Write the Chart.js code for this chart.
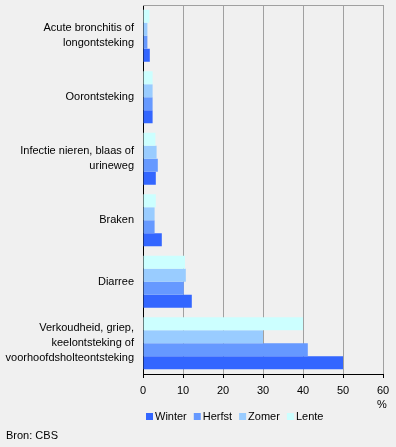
<!DOCTYPE html>
<html>
<head>
<meta charset="utf-8">
<script src="https://cdn.jsdelivr.net/npm/chart.js@4/dist/chart.umd.min.js"></script>
<style>
  html, body { margin: 0; padding: 0; background: #f0f0f0; }
  #wrap { position: relative; width: 396px; height: 447px; }
</style>
</head>
<body>
<div id="wrap"><canvas id="chart" width="396" height="447"></canvas></div>
<script>
// categories (multi-line labels) top to bottom
const categories = [
  ["Acute bronchitis of", "longontsteking"],
  "Oorontsteking",
  ["Infectie nieren, blaas of", "urineweg"],
  "Braken",
  "Diarree",
  ["Verkoudheid, griep,", "keelontsteking of", "voorhoofdsholteontsteking"]
];
const winter = [1.7, 2.4, 3.2, 4.7, 12.2, 50.0];
const herfst = [1.1, 2.4, 3.7, 2.9, 10.2, 41.2];
const zomer  = [1.1, 2.4, 3.4, 2.9, 10.7, 30.0];
const lente  = [1.6, 2.4, 3.1, 3.2, 10.5, 40.0];
const seriesNames = ["Winter", "Herfst", "Zomer", "Lente"];
const seriesColors = ["#3366ff", "#6699ff", "#99ccff", "#ccffff"];
const xTicks = [0, 10, 20, 30, 40, 50, 60];

const FONT = '"Liberation Sans", Arial, sans-serif';
Chart.defaults.font.family = FONT;
Chart.defaults.font.size = 11;
Chart.defaults.color = "#000";

// extra drawing: top frame line, unit, legend, source
const extras = {
  id: "extras",
  afterDraw(chart) {
    const ctx = chart.ctx;
    const a = chart.chartArea;
    ctx.save();
    ctx.strokeStyle = "#a0a0a0";
    ctx.lineWidth = 1;
    ctx.beginPath();
    ctx.moveTo(a.left, a.top + 0.5);
    ctx.lineTo(a.right, a.top + 0.5);
    ctx.stroke();

    ctx.font = "11px " + FONT;
    ctx.fillStyle = "#000";
    ctx.textBaseline = "middle";
    ctx.textAlign = "center";
    ctx.fillText("%", 382, 405);

    // legend
    ctx.textAlign = "left";
    let x = 146;
    for (let i = 0; i < seriesNames.length; i++) {
      ctx.fillStyle = seriesColors[i];
      ctx.fillRect(x, 413, 7, 7);
      x += 9;
      ctx.fillStyle = "#000";
      ctx.fillText(seriesNames[i], x, 417);
      x += ctx.measureText(seriesNames[i]).width + 7;
    }

    ctx.fillText("Bron: CBS", 6, 436);
    ctx.restore();
  }
};

const data = {
  labels: categories,
  datasets: [
    { label: "Lente", data: lente, backgroundColor: seriesColors[3] },
    { label: "Zomer", data: zomer, backgroundColor: seriesColors[2] },
    { label: "Herfst", data: herfst, backgroundColor: seriesColors[1] },
    { label: "Winter", data: winter, backgroundColor: seriesColors[0] }
  ]
};

new Chart(document.getElementById("chart"), {
  type: "bar",
  data: data,
  plugins: [extras],
  options: {
    indexAxis: "y",
    responsive: false,
    animation: false,
    events: [],
    layout: { padding: { top: 5, right: 13, left: 0, bottom: 43 } },
    datasets: {
      bar: { categoryPercentage: 0.846, barPercentage: 1, borderWidth: 0 }
    },
    plugins: {
      legend: { display: false },
      tooltip: { enabled: false }
    },
    scales: {
      x: {
        min: 0,
        max: 60,
        afterFit: (s) => { s.height = 30; s.paddingLeft = 0; s.paddingRight = 0; },
        afterBuildTicks: (s) => { s.ticks = xTicks.map(v => ({ value: v })); },
        ticks: { padding: 6, font: { size: 11 }, color: "#000" },
        grid: { color: "#a0a0a0", tickColor: "#000", tickLength: 4, drawTicks: true },
        border: { color: "#000", width: 1 }
      },
      y: {
        afterFit: (s) => { s.width = 143; s.paddingTop = 0; s.paddingBottom = 0; },
        ticks: { padding: 9, font: { size: 11, lineHeight: 15 / 11 }, color: "#000" },
        grid: { display: false, drawTicks: false },
        border: { display: true, color: "#000", width: 1 }
      }
    }
  }
});
</script>
</body>
</html>
